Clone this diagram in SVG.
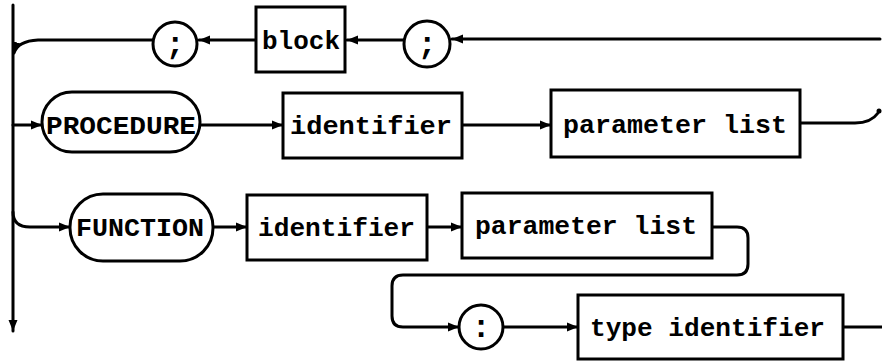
<svg xmlns="http://www.w3.org/2000/svg" width="882" height="362" viewBox="0 0 882 362">
<style>
.n{fill:#fff;stroke:#000;stroke-width:3}
.c{fill:none;stroke:#000;stroke-width:3;stroke-linecap:round;stroke-linejoin:round}
.t{font-family:"Liberation Mono","DejaVu Sans Mono",monospace;font-size:25px;font-weight:bold;fill:#000}
.p{font-family:"Liberation Mono","DejaVu Sans Mono",monospace;font-size:32px;font-weight:bold;fill:#000}
</style>
<defs>
<marker id="a" markerUnits="userSpaceOnUse" markerWidth="12" markerHeight="12" viewBox="0 0 12 12" refX="11" refY="6" orient="auto">
<path d="M0,1.5 L11,6 L0,10.5 Z" fill="#000"/>
</marker>
</defs>
<rect width="882" height="362" fill="#fff"/>
<g id="connectors">
<path class="c" d="M13,5 L13,331" marker-end="url(#a)"/>
<path class="c" d="M880,39 L452,39" marker-end="url(#a)"/>
<path class="c" d="M404,40 L347,40" marker-end="url(#a)"/>
<path class="c" d="M256,40 L199,40" marker-end="url(#a)"/>
<path class="c" d="M153,40 L38,40 Q18,41 14,53" marker-end="url(#a)"/>
<path class="c" d="M13,125 L42,125" marker-end="url(#a)"/>
<path class="c" d="M201,125 L283,125" marker-end="url(#a)"/>
<path class="c" d="M462,125 L551,125" marker-end="url(#a)"/>
<path class="c" d="M800,123 L855,123 Q871,123 878,113"/>
<circle cx="879" cy="111" r="2.5" fill="#000"/>
<path class="c" d="M13,212 Q13,227 30,227 L70,227" marker-end="url(#a)"/>
<path class="c" d="M213,227 L247,227" marker-end="url(#a)"/>
<path class="c" d="M427,227 L462,227" marker-end="url(#a)"/>
<path class="c" d="M712,227 L737,227 Q748,227 748,238 L748,264 Q748,275 737,275 L403,275 Q392,275 392,286 L392,316 Q392,327 403,327 L459,327" marker-end="url(#a)"/>
<path class="c" d="M503,327 L578,327" marker-end="url(#a)"/>
<path class="c" d="M843,327 L882,327"/>
</g>
<g id="semi-left">
<circle class="n" cx="175" cy="44" r="22"/>
<text class="p" x="175" y="54" text-anchor="middle">;</text>
</g>
<g id="block">
<rect class="n" x="256" y="7" width="89" height="65"/>
<text class="t" x="262" y="49" textLength="78" lengthAdjust="spacingAndGlyphs">block</text>
</g>
<g id="semi-right">
<circle class="n" cx="427" cy="44" r="23"/>
<text class="p" x="427" y="54" text-anchor="middle">;</text>
</g>
<g id="procedure">
<rect class="n" x="42" y="92" width="158" height="60" rx="30" ry="30"/>
<text class="t" x="46" y="134" textLength="150" lengthAdjust="spacingAndGlyphs">PROCEDURE</text>
</g>
<g id="identifier-1">
<rect class="n" x="283" y="93" width="179" height="65"/>
<text class="t" x="290" y="134" textLength="162" lengthAdjust="spacingAndGlyphs">identifier</text>
</g>
<g id="paramlist-1">
<rect class="n" x="551" y="90" width="249" height="67"/>
<text class="t" x="563" y="133" textLength="224" lengthAdjust="spacingAndGlyphs">parameter list</text>
</g>
<g id="function">
<rect class="n" x="70" y="194" width="143" height="67" rx="33" ry="33"/>
<text class="t" x="76" y="236" textLength="128" lengthAdjust="spacingAndGlyphs">FUNCTION</text>
</g>
<g id="identifier-2">
<rect class="n" x="247" y="195" width="180" height="65"/>
<text class="t" x="258" y="236" textLength="157" lengthAdjust="spacingAndGlyphs">identifier</text>
</g>
<g id="paramlist-2">
<rect class="n" x="462" y="193" width="250" height="65"/>
<text class="t" x="475" y="234" textLength="222" lengthAdjust="spacingAndGlyphs">parameter list</text>
</g>
<g id="colon">
<circle class="n" cx="481" cy="327" r="22"/>
<text class="p" x="481" y="337" text-anchor="middle">:</text>
</g>
<g id="type-identifier">
<rect class="n" x="578" y="295" width="265" height="64"/>
<text class="t" x="590" y="336" textLength="235" lengthAdjust="spacingAndGlyphs">type identifier</text>
</g>
</svg>
